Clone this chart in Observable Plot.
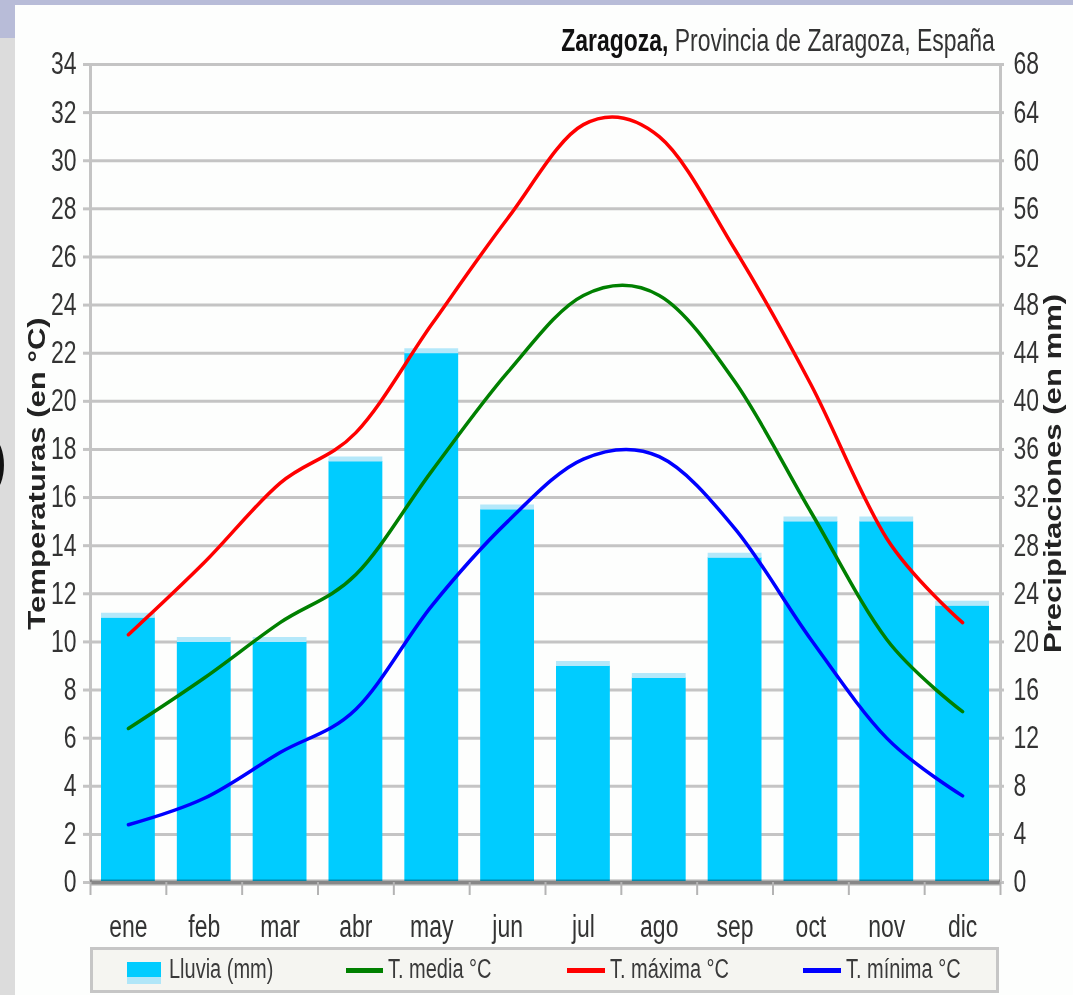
<!DOCTYPE html>
<html><head><meta charset="utf-8">
<script src="https://cdn.jsdelivr.net/npm/d3@7"></script>
<script src="https://cdn.jsdelivr.net/npm/@observablehq/plot@0.6"></script>
<style>
html,body{margin:0;padding:0;background:#fdfefd;}
body{width:1073px;height:995px;position:relative;overflow:hidden;font-family:"Liberation Sans",Arial,sans-serif;}
#topband{position:absolute;left:0;top:0;width:1073px;height:5px;background:#b8bcd8;}
#leftband1{position:absolute;left:0;top:0;width:15px;height:38px;background:#b8bcd8;}
#leftband2{position:absolute;left:0;top:38px;width:15px;height:957px;background:#dcdcdc;}
#paren{position:absolute;left:-15px;top:424px;font-size:70px;line-height:1;color:#111;}
#title{position:absolute;right:78px;top:24px;font-size:31px;line-height:34px;white-space:nowrap;color:#333;transform:scaleX(0.74);transform-origin:right center;}
#title b{color:#111;}
#chart{position:absolute;left:0;top:40px;}
#legend{position:absolute;left:90px;top:947px;width:903px;height:40px;border:3px solid #c6c6c6;background:#f5f5f1;}
.sw{position:absolute;}
.lt{position:absolute;font-size:27px;line-height:27px;white-space:nowrap;color:#3a3a3a;transform:scaleX(0.74);transform-origin:left center;}
</style></head>
<body>
<div id="topband"></div><div id="leftband1"></div><div id="leftband2"></div>
<div id="paren">)</div>
<div id="title"><b>Zaragoza,</b> Provincia de Zaragoza, España</div>
<div id="chart"></div>
<div id="legend"></div>
<script>
const months = ["ene","feb","mar","abr","may","jun","jul","ago","sep","oct","nov","dic"];
const rainMm = [22,20,20,35,44,31,18,17,27,30,30,23];
const tMax = [10.3,13.3,16.6,18.7,23.2,27.6,31.5,31.0,26.3,20.7,14.3,10.8];
const tMed = [6.4,8.5,10.8,12.8,17.1,21.2,24.4,24.4,20.8,15.4,10.1,7.1];
const tMin = [2.4,3.5,5.4,7.2,11.5,15.0,17.6,17.7,14.7,10.1,6.0,3.6];
const tempTicks = d3.range(0, 35, 2);
const legendLabels = ["Lluvia (mm)","T. media °C","T. máxima °C","T. mínima °C"];
const axisTitles = ["Temperaturas (en °C)","Precipitaciones (en mm)"];

const data = months.map((m,i)=>({month:m, rain:rainMm[i], tmax:tMax[i], tmed:tMed[i], tmin:tMin[i]}));
const step = (1000-90)/12;

const chart = Plot.plot({
  width: 1073, height: 905,
  marginLeft: 90, marginRight: 73, marginTop: 24, marginBottom: 63,
  style: {fontFamily: "'Liberation Sans', Arial, sans-serif", fontSize: "31px", color: "#333", background: "transparent"},
  x: {domain: months, paddingInner: 0.29, paddingOuter: 0.145, round: false, label: null},
  y: {domain: [0, 34], label: null},
  marks: [
    Plot.ruleY(tempTicks, {stroke: "#c4c4c4", strokeWidth: 3}),
    Plot.barY(data, {x: "month", y: d => d.rain / 2, fill: "#00ccff"}),
    Plot.tickY(data, {x: "month", y: d => d.rain / 2, stroke: "#b4e8fa", strokeWidth: 5, dy: -2.5}),
    Plot.frame({stroke: "#c4c4c4", strokeWidth: 3}),
    Plot.ruleY([0], {stroke: "#b0b0b0", strokeWidth: 6, mixBlendMode: "multiply"}),
    Plot.line(data, {x: "month", y: "tmed", stroke: "#008000", strokeWidth: 3.5, curve: "cardinal"}),
    Plot.line(data, {x: "month", y: "tmin", stroke: "#0000ff", strokeWidth: 3.5, curve: "cardinal"}),
    Plot.line(data, {x: "month", y: "tmax", stroke: "#ff0000", strokeWidth: 3.5, curve: "cardinal"}),
    Plot.axisY({ticks: tempTicks, tickSize: 7, tickPadding: 7, stroke: "#c4c4c4", strokeWidth: 3, tickFormat: d => String(d), label: null}),
    Plot.axisY({anchor: "right", ticks: tempTicks, tickSize: 3, tickPadding: 10, stroke: "#c4c4c4", strokeWidth: 3, tickFormat: d => String(d * 2), label: null}),
    Plot.axisX({ticks: months, tickSize: 13, dx: -step / 2, tickFormat: () => "", stroke: "#b4b4b4", strokeWidth: 2, label: null}),
    Plot.axisX({ticks: ["dic"], tickSize: 13, dx: step / 2, tickFormat: () => "", stroke: "#b4b4b4", strokeWidth: 2, label: null}),
    Plot.axisX({tickSize: 0, tickPadding: 32, label: null}),
    Plot.text([axisTitles[0]], {frameAnchor: "left", textAnchor: "middle", dx: -53, rotate: -90, fontWeight: "bold", fontSize: 23, fill: "#222", className: "rot"}),
    Plot.text([axisTitles[1]], {frameAnchor: "right", textAnchor: "middle", dx: 53, rotate: -90, fontWeight: "bold", fontSize: 23, fill: "#222", className: "rot"})
  ]
});
document.getElementById("chart").appendChild(chart);

// emulate the horizontally squeezed lettering of the original picture
const SX = 0.74;
chart.querySelectorAll("text").forEach(t => {
  const len = t.getComputedTextLength();
  if (!len) return;
  const rot = t.closest(".rot");
  t.setAttribute("lengthAdjust", "spacingAndGlyphs");
  t.setAttribute("textLength", rot ? len / SX : len * SX);
});

// legend
const swatches = [
  {left: 127, top: 962, w: 34, h: 22, bg: "linear-gradient(#00ccff 0 70%, #b0e6f8 70% 100%)", tx: 169},
  {left: 346, top: 968, w: 37, h: 5, bg: "#008000", tx: 388},
  {left: 567, top: 968, w: 38, h: 5, bg: "#ff0000", tx: 610},
  {left: 803, top: 968, w: 38, h: 5, bg: "#0000ff", tx: 846}
];
swatches.forEach((s, i) => {
  const d = document.createElement("div");
  d.className = "sw";
  Object.assign(d.style, {left: s.left + "px", top: s.top + "px", width: s.w + "px", height: s.h + "px", background: s.bg});
  document.body.appendChild(d);
  const t = document.createElement("div");
  t.className = "lt";
  t.textContent = legendLabels[i];
  Object.assign(t.style, {left: s.tx + "px", top: "956px"});
  document.body.appendChild(t);
});
</script>
</body></html>
